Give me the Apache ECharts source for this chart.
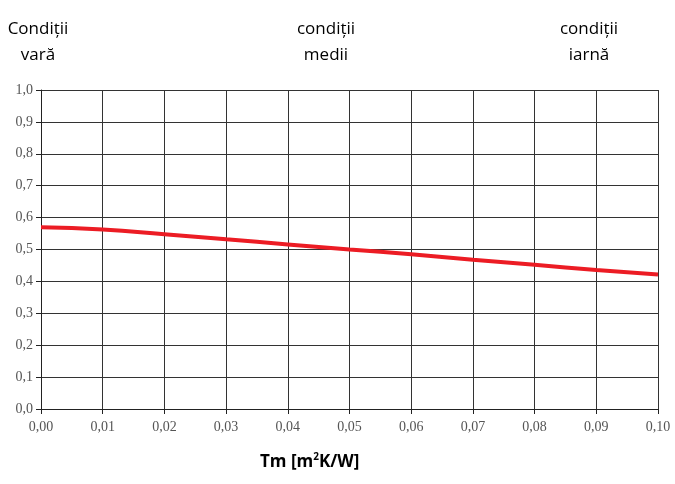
<!DOCTYPE html>
<html>
<head>
<meta charset="utf-8">
<script src="https://cdn.jsdelivr.net/npm/echarts@6/dist/echarts.min.js"></script>
<style>html,body{margin:0;padding:0;background:#fff;}#c{width:675px;height:484px;}</style>
</head>
<body>
<div id="c"></div>
<script>
var xValues = [0.00, 0.01, 0.02, 0.03, 0.04, 0.05, 0.06, 0.07, 0.08, 0.09, 0.10];
var yValues = [0.570, 0.563, 0.548, 0.532, 0.516, 0.500, 0.485, 0.468, 0.452, 0.436, 0.422];
var topLabels = ['Condiții\nvară', 'condiții\nmedii', 'condiții\niarnă'];

var chart = echarts.init(document.getElementById('c'));
var data = xValues.map(function (x, i) { return [x, yValues[i]]; });
var serif = 'Liberation Serif';
var sans = '"Open Sans", "Liberation Sans", sans-serif';
function topText(cx, txt) {
  return { type: 'text', x: cx, y: 16, style: { text: txt, font: '17px ' + sans, fill: '#000', lineHeight: 26, textAlign: 'center', textVerticalAlign: 'top', align: 'center' } };
}
chart.setOption({
  animation: false,
  backgroundColor: '#fff',
  grid: { left: 41, right: 17, top: 90, bottom: 75 },
  xAxis: {
    type: 'value', min: 0, max: 0.1, interval: 0.01,
    axisLine: { lineStyle: { color: '#222', width: 1 } },
    axisTick: { show: true, length: 5, lineStyle: { color: '#222' } },
    splitLine: { show: true, lineStyle: { color: '#333', width: 1 } },
    axisLabel: {
      color: '#555', fontFamily: serif, fontSize: 14, margin: 11,
      formatter: function (v) { return v.toFixed(2).replace('.', ','); }
    }
  },
  yAxis: {
    type: 'value', min: 0, max: 1, interval: 0.1,
    axisLine: { show: true, lineStyle: { color: '#222', width: 1 } },
    axisTick: { show: true, length: 5, lineStyle: { color: '#222' } },
    splitLine: { show: true, lineStyle: { color: '#333', width: 1 } },
    axisLabel: {
      color: '#555', fontFamily: serif, fontSize: 14, margin: 8,
      formatter: function (v) { return v.toFixed(1).replace('.', ','); }
    }
  },
  series: [{
    type: 'line', data: data, smooth: true, symbol: 'none',
    lineStyle: { color: '#ec1c24', width: 4 }
  }],
  graphic: [
    topText(38, topLabels[0]),
    topText(326, topLabels[1]),
    topText(589, topLabels[2]),
    { type: 'text', left: 260, top: 452, style: {
      text: '{b|Tm [m}{s|2}{b|K/W]}',
      rich: {
        b: { font: 'bold 17px ' + sans, fill: '#000', color: '#000' },
        s: { font: 'bold 10px ' + sans, fill: '#000', color: '#000', verticalAlign: 'top', padding: [0, 0, 10, 0] }
      }
    } }
  ]
});
</script>
</body>
</html>
